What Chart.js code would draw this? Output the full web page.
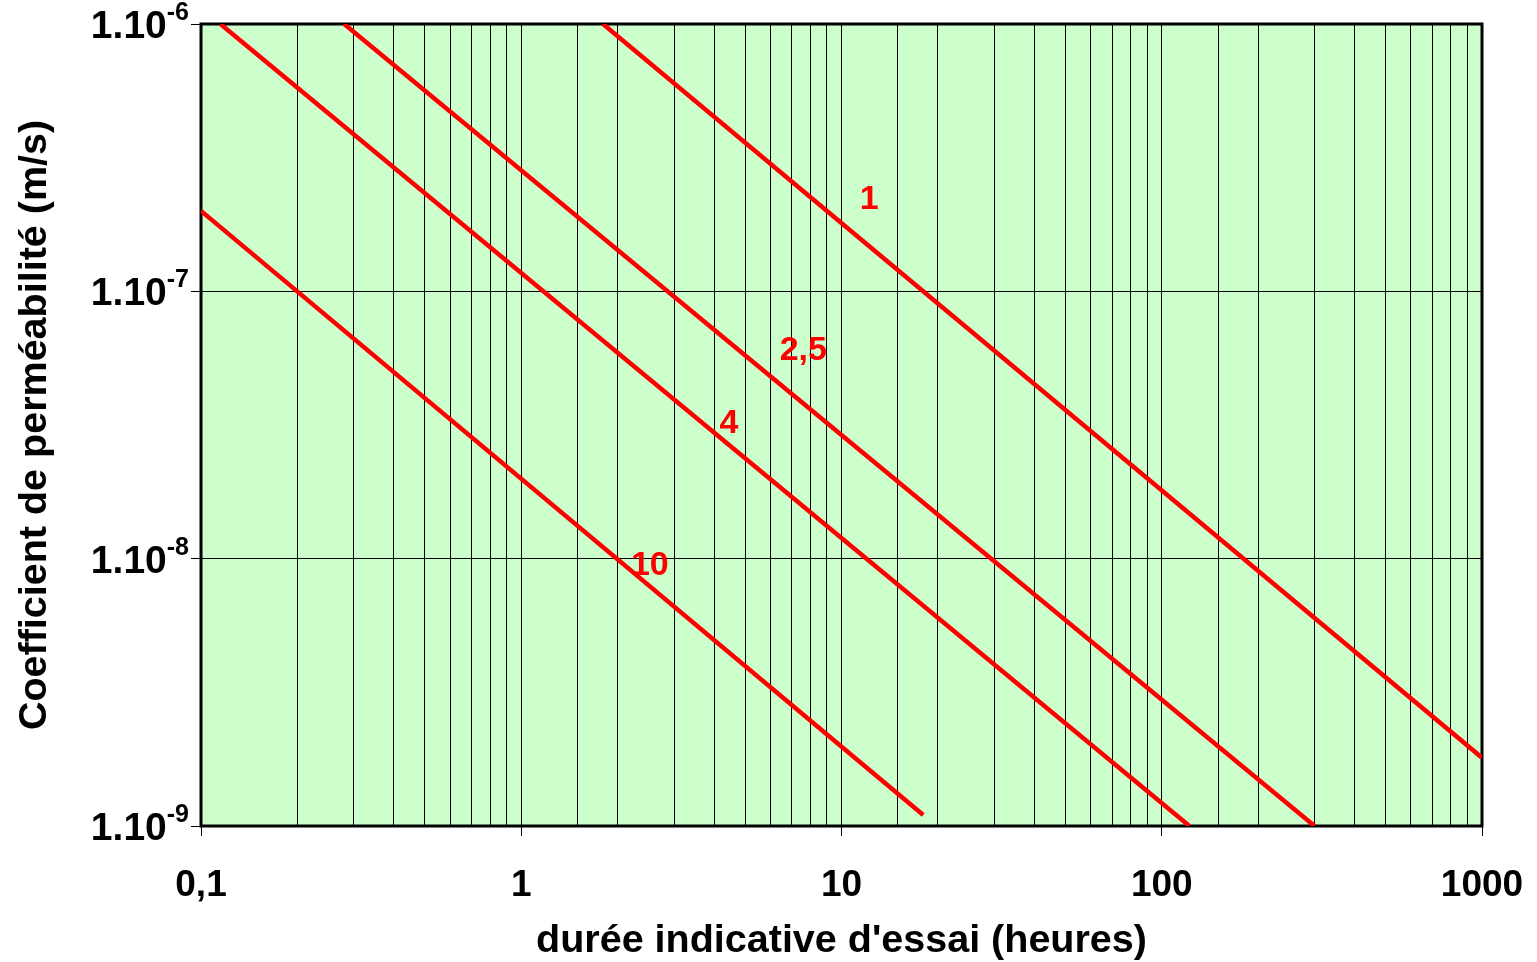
<!DOCTYPE html>
<html><head><meta charset="utf-8">
<script src="https://cdn.jsdelivr.net/npm/chart.js@4/dist/chart.umd.min.js"></script>
<style>html,body{margin:0;padding:0;background:#fff;overflow:hidden}</style>
</head><body>
<canvas id="c" width="1537" height="962" style="display:block;width:1537px;height:962px"></canvas>
<script>
const FONT = '"Liberation Sans", Arial, sans-serif';

// axis ticks
const xTickValues = [0.1, 1, 10, 100, 1000];
const xTickLabels = ['0,1', '1', '10', '100', '1000'];
const yTickValues = [1e-6, 1e-7, 1e-8, 1e-9];
const yTickBase = '1.10';
const yTickExp = ['-6', '-7', '-8', '-9'];

// series (durée in hours, k in m/s)
const seriesNames = ['1', '2,5', '4', '10'];
const serie1X = [1.8, 1000];
const serie1Y = [1e-6, 1.8e-9];
const serie25X = [0.28, 300];
const serie25Y = [1e-6, 1e-9];
const serie4X = [0.115, 122];
const serie4Y = [1e-6, 1e-9];
const serie10X = [0.1, 18];
const serie10Y = [2e-7, 1.1e-9];

// curve labels
const labelX = [12.2, 7.6, 4.45, 2.52];
const labelY = [2.2e-7, 6e-8, 3.2e-8, 9.4e-9];

const xTitle = "durée indicative d'essai (heures)";
const yTitle = 'Coefficient de perméabilité (m/s)';

function pts(xs, ys) { return xs.map((x, i) => ({x: x, y: ys[i]})); }
function isDecade(v) { const l = Math.log10(v); return Math.abs(l - Math.round(l)) < 1e-6; }

const seriesData = [pts(serie1X, serie1Y), pts(serie25X, serie25Y), pts(serie4X, serie4Y), pts(serie10X, serie10Y)];

const deco = {
  id: 'deco',
  beforeDraw(chart) {
    const {ctx, chartArea: a} = chart;
    ctx.save();
    ctx.fillStyle = '#CCFFCC';
    ctx.fillRect(a.left, a.top, a.right - a.left, a.bottom - a.top);
    ctx.restore();
  },
  beforeDatasetsDraw(chart) {
    const {ctx, chartArea: a} = chart;
    ctx.save();
    ctx.strokeStyle = '#000';
    ctx.lineWidth = 3;
    ctx.strokeRect(a.left, a.top, a.right - a.left, a.bottom - a.top);
    ctx.restore();
  },
  afterDraw(chart) {
    const {ctx, chartArea: a} = chart;
    const ys = chart.scales.y, xs = chart.scales.x;
    ctx.save();
    ctx.fillStyle = '#000';
    ctx.textBaseline = 'alphabetic';
    const right = a.left - 12;
    yTickValues.forEach((v, i) => {
      const py = ys.getPixelForValue(v);
      ctx.font = 'bold 25px ' + FONT;
      ctx.textAlign = 'right';
      const ew = ctx.measureText(yTickExp[i]).width;
      ctx.fillText(yTickExp[i], right, py - 4);
      ctx.font = 'bold 39px ' + FONT;
      ctx.fillText(yTickBase, right - ew, py + 14);
    });
    ctx.fillStyle = '#FF0000';
    ctx.font = 'bold 34px ' + FONT;
    ctx.textAlign = 'center';
    ctx.textBaseline = 'middle';
    seriesNames.forEach((n, i) => {
      ctx.fillText(n, xs.getPixelForValue(labelX[i]), ys.getPixelForValue(labelY[i]));
    });
    ctx.restore();
  }
};

new Chart(document.getElementById('c'), {
  type: 'line',
  data: {
    datasets: seriesNames.map((n, i) => ({
      label: n,
      data: seriesData[i],
      borderColor: '#FF0000',
      borderWidth: 4.5,
      pointRadius: 0,
      fill: false,
      tension: 0
    }))
  },
  options: {
    responsive: false,
    animation: false,
    devicePixelRatio: 1,
    layout: {padding: {top: 24, right: 55, left: 0, bottom: 0}},
    plugins: {legend: {display: false}, tooltip: {enabled: false}},
    scales: {
      x: {
        type: 'logarithmic',
        min: 0.1, max: 1000,
        afterFit(s) { s.height = 136; s.paddingLeft = 0; s.paddingRight = 0; },
        grid: {
          color: '#000', lineWidth: 1,
          tickLength: 10,
          tickColor: c => (c.tick && isDecade(c.tick.value)) ? '#000' : 'rgba(0,0,0,0)'
        },
        border: {display: false},
        ticks: {
          autoSkip: false, maxRotation: 0, minRotation: 0,
          padding: 28,
          color: '#000',
          font: {family: FONT, size: 37, weight: 'bold'},
          callback: (v) => { const i = xTickValues.findIndex(t => Math.abs(Math.log10(t) - Math.log10(v)) < 1e-6); return i >= 0 ? xTickLabels[i] : ''; }
        },
        title: {
          display: true, text: xTitle, color: '#000',
          font: {family: FONT, size: 39.5, weight: 'bold'},
          padding: {top: 0, bottom: -3}
        }
      },
      y: {
        type: 'logarithmic',
        min: 1e-9, max: 1e-6,
        afterFit(s) { s.width = 201; s.paddingTop = 0; s.paddingBottom = 0; },
        grid: {
          color: c => (c.tick && isDecade(c.tick.value)) ? '#000' : 'rgba(0,0,0,0)',
          lineWidth: 1,
          tickLength: 10,
          tickColor: c => (c.tick && isDecade(c.tick.value)) ? '#000' : 'rgba(0,0,0,0)'
        },
        border: {display: false},
        ticks: {autoSkip: false, display: false},
        title: {
          display: true, text: yTitle, color: '#000',
          font: {family: FONT, size: 39.5, weight: 'bold'},
          padding: {top: 11, bottom: 0}
        }
      }
    }
  },
  plugins: [deco]
});
</script>
</body></html>
